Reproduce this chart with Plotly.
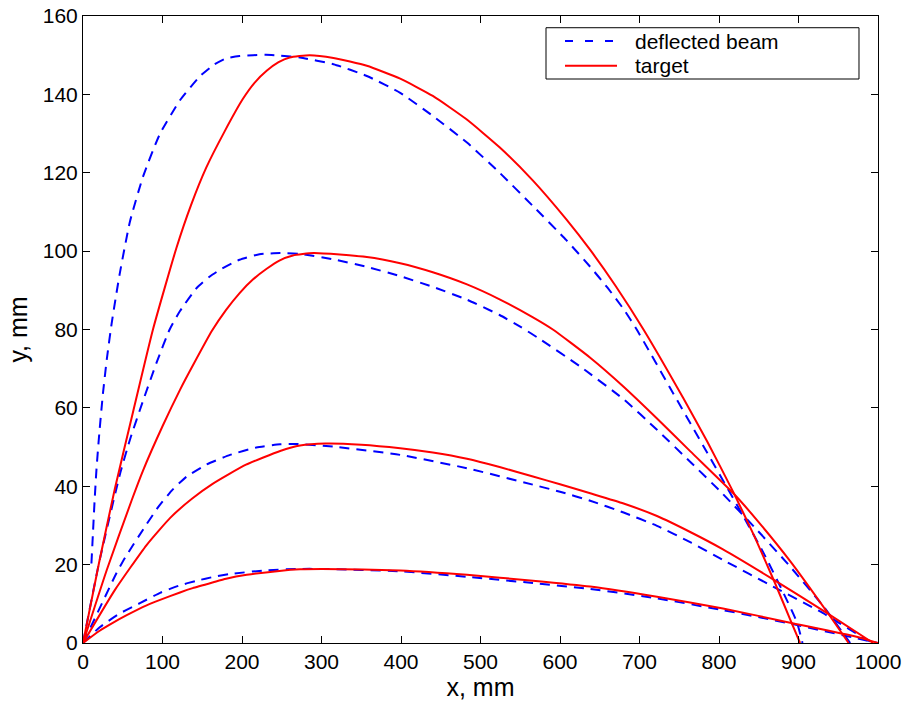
import plotly.graph_objects as go

# ---- deflected beam shapes (mm) ----
beam1_x = [10.6, 12.5, 14.5, 17, 20.5, 25, 30, 36, 46, 59, 75.5, 96.5, 122, 147, 165, 180, 197, 214, 230, 248, 273,
           315, 357, 399, 440, 483, 524, 566, 608, 638, 660, 680, 696.5, 743, 785, 826, 856, 881, 898, 905]
beam1_y = [20.3, 28, 36, 44.5, 53.5, 63.5, 72.5, 81.5, 94, 107.5, 119, 129.8, 138.5, 144.6, 147.6, 149.2, 149.8, 150,
           150.1, 149.9, 149.4, 147.7, 144.7, 140.4, 134.5, 127.7, 120, 111.5, 102.8, 96, 90.6, 85.2, 80, 63.5, 48.6,
           34, 23, 12.8, 5.3, 0]

beam2_x = [0, 20, 47, 60, 75, 93, 109, 122, 143, 160, 172, 197, 222, 248, 273, 315, 357, 399, 440,
           483, 524, 551, 575, 625, 680, 722, 764, 805, 848, 889.5, 931.5, 965]
beam2_y = [0, 20.3, 43.5, 52.5, 61.5, 71.8, 80, 84.7, 90.6, 93.6, 95.2, 97.8, 99.2, 99.5, 99.3, 97.9, 96, 93.6, 90.9,
           87.6, 83.7, 80.6, 77.5, 70.6, 62.2, 54.4, 46.2, 38, 28.8, 19.5, 9.3, 0]

beam3_x = [0, 12.6, 42, 53, 78, 95, 113, 130, 155, 185, 218, 248, 269, 315, 399, 483, 566, 600, 638,
           680, 722, 765, 805, 868, 931, 986, 995]
beam3_y = [0, 5.3, 17.8, 21.8, 29.7, 34.8, 39.2, 42.4, 45.5, 48, 49.9, 50.7, 50.8, 50.1, 48, 44.6, 40.4, 38.6, 36.3,
           33.3, 29.9, 25.6, 21.2, 14.4, 7.6, 0.8, 0]

beam4_x = [0, 21, 46, 71, 97, 120, 143, 165, 185, 227, 269, 300, 399, 483, 566, 638, 722, 805, 889, 973, 1000]
beam4_y = [0, 4, 7.5, 10.1, 12.8, 14.6, 15.9, 16.9, 17.6, 18.5, 18.9, 18.9, 18.3, 16.9, 15.3, 13.8, 11.4, 8.4, 5, 1.2, 0]

# ---- target shapes (mm) ----
target1_x = [0, 20, 40, 63, 88, 117.5, 136, 155, 178, 201, 216, 231, 246, 260, 285, 315, 357, 399, 440, 482, 524,
             566, 608, 638, 670, 705, 755, 785, 818, 845, 870, 890, 902]
target1_y = [0, 20.3, 39.3, 59, 80, 100.8, 111.8, 121.3, 130.5, 138.8, 143, 146, 148.2, 149.4, 150, 149.3, 147.3,
             144, 139.6, 133.7, 126.5, 118, 108.1, 100.3, 91.1, 80, 62.5, 51.5, 38.5, 27, 15.5, 5.8, 0]

target2_x = [0, 30, 61, 75.5, 100, 122, 140, 162, 180, 197, 214, 231, 247, 264, 290, 357, 399, 440, 483, 524,
             566, 591, 638, 680, 722, 764, 818, 848, 889.5, 936, 963]
target2_y = [0, 18.7, 36.3, 44, 55.3, 64.6, 71.5, 79.6, 85, 89.3, 92.8, 95.5, 97.6, 98.9, 99.5, 98.5, 96.9, 94.6,
             91.5, 87.7, 83.1, 80, 72.8, 65.4, 57.3, 48.9, 38.2, 31.3, 20.9, 7.9, 0]

target3_x = [0, 40, 80, 110, 137, 163, 205, 248, 273, 305, 350, 399, 440, 483, 524, 566, 600, 638, 680, 722, 765,
             805, 866, 936, 994]
target3_y = [0, 13.5, 25, 32, 36.8, 40.6, 45.5, 49, 50.4, 50.9, 50.6, 49.7, 48.6, 47, 44.9, 42.5, 40.5, 38.2, 35.6,
             32.4, 28.2, 23.9, 16.5, 7.6, 0]

target4_x = [0, 20, 38, 55, 80, 97, 122, 138, 164, 180, 206, 247, 273, 300, 399, 483, 566, 638, 722,
             805, 894, 973, 1000]
target4_y = [0, 3, 5.2, 7.1, 9.6, 11, 12.9, 14, 15.5, 16.4, 17.4, 18.4, 18.8, 18.9, 18.5, 17.4, 15.9, 14.4, 11.8,
             8.8, 5, 1.6, 0]

x_ticks = list(range(0, 1001, 100))
y_ticks = list(range(0, 161, 20))

beams = [(beam1_x, beam1_y), (beam2_x, beam2_y), (beam3_x, beam3_y), (beam4_x, beam4_y)]
targets = [(target1_x, target1_y), (target2_x, target2_y), (target3_x, target3_y), (target4_x, target4_y)]

legend_labels = ["deflected beam", "target"]
BLUE = "#0000ff"
RED = "#ff0000"
FONT = "Liberation Sans, Arial, Helvetica, sans-serif"

fig = go.Figure()

for bx, by in beams:
    fig.add_trace(go.Scatter(
        x=bx, y=by, mode="lines", name=legend_labels[0], showlegend=False,
        line=dict(color=BLUE, width=2, dash="10px,7px", shape="spline", smoothing=0.5),
        hoverinfo="skip",
    ))

for tx, ty in targets:
    fig.add_trace(go.Scatter(
        x=tx, y=ty, mode="lines", name=legend_labels[1], showlegend=False,
        line=dict(color=RED, width=2, shape="spline", smoothing=0.5),
        hoverinfo="skip",
    ))

axis_common = dict(
    showgrid=False, zeroline=False, automargin=False,
    showline=True, linecolor="black", linewidth=1,
    mirror="ticks", ticks="inside", ticklen=7, tickcolor="black", tickwidth=1,
    tickfont=dict(family=FONT, size=21, color="black"),
)

fig.update_xaxes(
    range=[0, 1000], tickvals=x_ticks, ticktext=[str(v) for v in x_ticks],
    title=dict(text="x, mm", font=dict(family=FONT, size=25, color="black"), standoff=6),
    **axis_common,
)
fig.update_yaxes(
    range=[0, 160], tickvals=y_ticks, ticktext=[str(v) for v in y_ticks],
    title=dict(text="y, mm", font=dict(family=FONT, size=25, color="black"), standoff=8),
    **axis_common,
)

# legend box drawn in paper coordinates (upper right of the axes)
box = dict(x0=0.5824, x1=0.9761, y0=0.8995, y1=0.9813)
rows_y = [0.9601, 0.9207]
sample_x = (0.6063, 0.6717)
text_x = 0.6918

shapes = [dict(type="rect", xref="paper", yref="paper", layer="above",
               line=dict(color="black", width=1), fillcolor="white", **box)]
shapes.append(dict(type="line", xref="paper", yref="paper", layer="above",
                   x0=sample_x[0], x1=sample_x[1], y0=rows_y[0], y1=rows_y[0],
                   line=dict(color=BLUE, width=2, dash="8px,12px")))
shapes.append(dict(type="line", xref="paper", yref="paper", layer="above",
                   x0=sample_x[0], x1=sample_x[1], y0=rows_y[1], y1=rows_y[1],
                   line=dict(color=RED, width=2)))

annotations = [
    dict(text=label, xref="paper", yref="paper", x=text_x, y=ry, xanchor="left", yanchor="middle",
         showarrow=False, font=dict(family=FONT, size=21, color="black"))
    for label, ry in zip(legend_labels, rows_y)
]

fig.update_layout(
    template="none",
    width=904, height=706,
    margin=dict(l=83, r=26, t=16, b=63),
    paper_bgcolor="white", plot_bgcolor="white",
    font=dict(family=FONT, color="black"),
    showlegend=False,
    shapes=shapes,
    annotations=annotations,
)

fig.write_html("out.html")
